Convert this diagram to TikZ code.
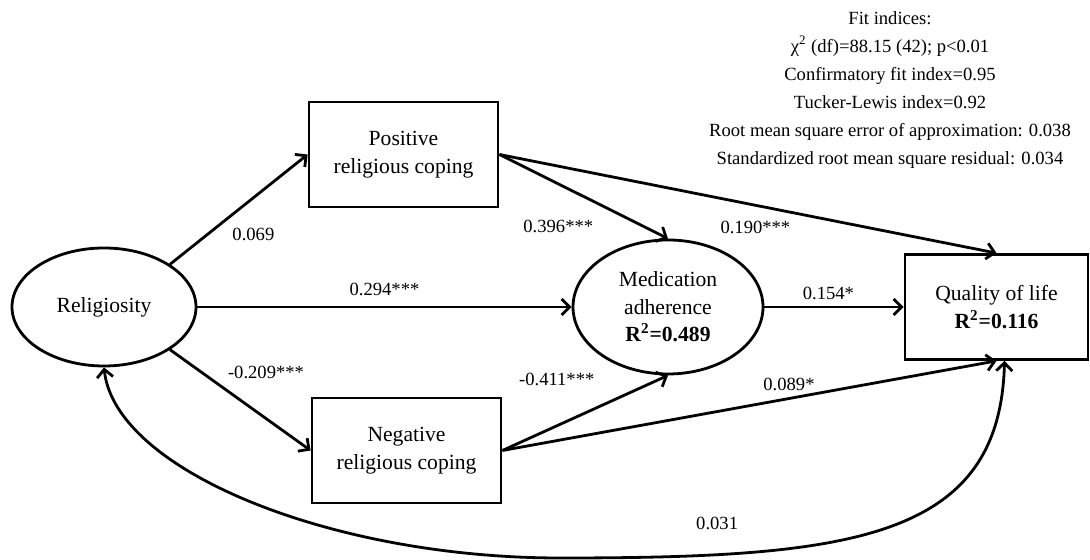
\documentclass[tikz,border=0pt]{standalone}
\usepackage{fontspec}
\setmainfont{Liberation Serif}
\usetikzlibrary{shapes.geometric, arrows.meta, positioning}
\newcommand{\semnodefont}{\fontsize{10.8pt}{13.8pt}\selectfont}
\newcommand{\semlabelfont}{\fontsize{9.3pt}{14pt}\selectfont}
\tikzset{
  >={Straight Barb[length=4pt,width=8pt]},
  latent/.style={
    ellipse, draw, line width=1.4pt, inner sep=0pt,
    align=center, font=\semnodefont
  },
  observed/.style={
    rectangle, draw, line width=1.4pt,
    minimum width=94.5pt, minimum height=52.5pt,
    align=center, font=\semnodefont
  },
  arrow/.style={line width=1.4pt, ->},
  coef/.style={font=\semlabelfont, inner sep=3pt},
}

\begin{document}
\begin{tikzpicture}[on grid]
  \fill[white] (0,0) rectangle (545pt,280pt);
  \useasboundingbox (0,0) rectangle (545pt,280pt);

  \node (relig) [latent, minimum width=92pt, minimum height=59pt] at (52pt,126.5pt) {Religiosity};
  \node (med)   [latent, minimum width=95pt, minimum height=67pt, right=282pt of relig]
                {Medication\\adherence\\\textbf{R\textsuperscript{2}=0.489}};
  \node (qol)   [observed, minimum width=91.5pt, right=164.25pt of med]
                {Quality of life\\\textbf{R\textsuperscript{2}=0.116}};
  \node (pos)   [observed, above right=76.25pt and 149.75pt of relig] {Positive\\religious coping};
  \node (neg)   [observed, below right=71.75pt and 151.25pt of relig] {Negative\\religious coping};
  \node (fit)   [font=\semlabelfont, align=center] at (445pt,235pt)
                {Fit indices:\\
                 χ\textsuperscript{2} (df)=88.15 (42); p<0.01\\
                 Confirmatory fit index=0.95\\
                 Tucker-Lewis index=0.92\\
                 Root mean square error of approximation: 0.038\\
                 Standardized root mean square residual: 0.034};

  \coordinate (dip) at (280pt,1pt);

  \draw [arrow] (relig.north east) -- node[coef, pos=0.4, below right]{0.069} (pos.west);
  \draw [arrow] (relig.east)       -- node[coef, pos=0.5, above=2pt]{0.294***} (med.west);
  \draw [arrow] (relig.south east) -- node[coef, pos=0.36, above right]{-0.209***} (neg.west);
  \draw [arrow] (pos.east) -- node[coef, pos=0.6, below left, yshift=-4pt]{0.396***} (med.north);
  \draw [arrow] (pos.east) -- node[coef, pos=0.6, below left]{0.190***} (qol.north);
  \draw [arrow] (neg.east) -- node[coef, pos=0.6, above left, yshift=6pt]{-0.411***} (med.south);
  \draw [arrow] (neg.east) -- node[coef, pos=0.58, above]{0.089*} (qol.south);
  \draw [arrow] (med.east) -- node[coef, pos=0.46, above]{0.154*} (qol.west);
  \draw [arrow, <->] (relig.south) .. controls (57.5pt,45pt) and (165pt,1pt) .. (dip)
        .. controls (425pt,1pt) and (500pt,10pt) .. ([xshift=4pt]qol.south)
        node[coef, pos=0.2, above=9pt]{0.031};
\end{tikzpicture}
\end{document}
